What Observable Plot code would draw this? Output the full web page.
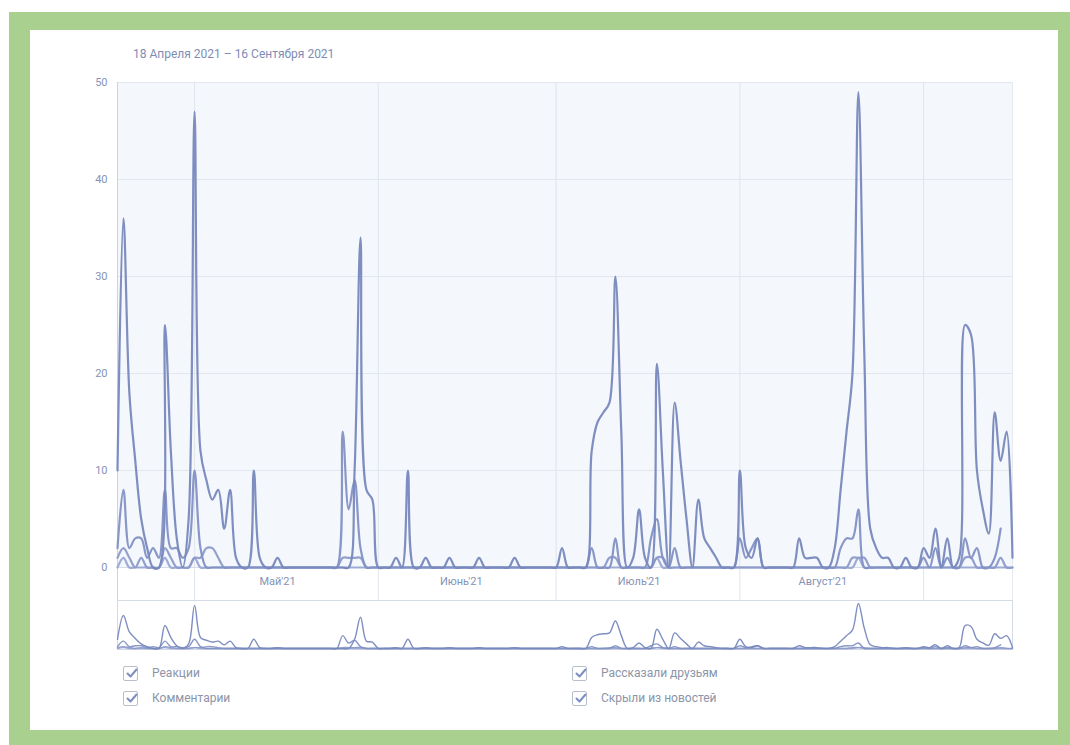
<!DOCTYPE html>
<html><head><meta charset="utf-8">
<script src="https://cdn.jsdelivr.net/npm/d3@7"></script>
<script src="https://cdn.jsdelivr.net/npm/@observablehq/plot@0.6"></script>
<style>
html,body{margin:0;padding:0;background:#fff;width:1070px;height:745px;overflow:hidden;font-family:Roboto,"Open Sans",sans-serif;}
#frame{position:absolute;left:9px;top:12px;width:1061px;height:733px;background:#a9d08e;}
#card{position:absolute;left:30px;top:30px;width:1028px;height:700px;background:#fff;}
#title{position:absolute;left:133px;top:47px;font-size:12px;color:#7e8db5;white-space:nowrap;}
#main{position:absolute;left:0;top:70px;}
#nav{position:absolute;left:0;top:600px;}
.leg{position:absolute;font-size:12px;color:#8b94a8;display:flex;align-items:center;height:16px;white-space:nowrap;}
.box{width:15px;height:15px;border:1px solid #b8bfcc;border-radius:2px;margin-right:14px;box-sizing:border-box;position:relative;background:#fff;}
.box svg{position:absolute;left:1px;top:0px;}
</style></head><body>
<div id="frame"></div>
<div id="card"></div>
<div id="title"></div>
<div id="main"></div>
<div id="nav"></div>
<div id="legend"></div>
<script>
// ---- data (daily, 18 Apr 2021 .. 16 Sep 2021) ----
const titleText = "18 Апреля 2021 – 16 Сентября 2021";
const seriesNames = ["Реакции", "Комментарии", "Рассказали друзьям", "Скрыли из новостей"];
const monthLabels = ["Май'21", "Июнь'21", "Июль'21", "Август'21"];
const yTicks = [0, 10, 20, 30, 40, 50];

const reactions = [
  // Apr 18-30
  10,36,18,11,5,2,0,0,25,12,3,0,5,
  // May
  47,12,9,7,8,4,8,1,0,0,10,1,0,0,1,0,0,0,0,0,0,0,0,0,0,0,0,10,34,8,7,
  // Jun
  0,0,0,1,0,10,0,0,1,0,0,0,1,0,0,0,0,1,0,0,0,0,0,1,0,0,0,0,0,0,
  // Jul
  0,2,0,0,0,0,12,15,16,17,30,14,0,1,6,1,0,21,10,0,17,11,5,0,7,3,2,1,0,0,0,
  // Aug
  10,2,1,3,0,0,0,0,0,0,3,1,1,1,0,0,2,8,14,20,49,22,4,2,1,1,0,0,1,0,0,
  // Sep 1-16
  2,1,4,0,3,0,1,25,24,10,6,3.5,16,11,14,1
];
const shares = [
  2,8,2,3,3,1,2,1,8,2,2,1,2,
  10,2,0,0,0,0,0,0,0,0,0,0,0,0,0,0,0,0,0,0,0,0,0,0,0,14,6,9,2,0,0,
  0,0,0,0,0,0,0,0,0,0,0,0,0,0,0,0,0,0,0,0,0,0,0,0,0,0,0,0,0,0,
  0,0,0,0,0,0,2,0,0,0,3,0,0,0,0,0,3,5,1,0,2,0,0,0,0,0,0,0,0,0,0,
  3,1,2,3,0,0,0,0,0,0,0,0,0,0,0,0,0,2,3,3,6,0,0,0,0,0,0,0,0,0,0,
  1,0,2,0,1,0,0,3,1,2,0,0,1,4,null,null
];
const comments = [
  1,2,1,0,1,0,0,0,2,1,0,0,0,
  1,1,2,2,1,0,0,0,0,0,0,0,0,0,0,0,0,0,0,0,0,0,0,0,0,1,1,1,1,0,0,
  0,0,0,0,0,0,0,0,0,0,0,0,0,0,0,0,0,0,0,0,0,0,0,0,0,0,0,0,0,0,
  0,0,0,0,0,0,0,0,0,1,1,0,0,0,0,0,0,1,1,0,0,0,0,0,0,0,0,0,0,0,0,
  0,0,0,0,0,0,0,0,0,0,0,0,0,0,0,0,0,0,0,1,1,1,0,0,0,0,0,0,0,0,0,
  0,0,0,0,0,0,0,1,1,0,0,0,0,1,0,0
];
const hidden = [
  0,1,0,0,0,0,0,0,1,0,0,0,0,
  1,0,0,0,0,0,0,0,0,0,0,0,0,0,0,0,0,0,0,0,0,0,0,0,0,0,0,0,0,0,0,
  0,0,0,0,0,0,0,0,0,0,0,0,0,0,0,0,0,0,0,0,0,0,0,0,0,0,0,0,0,0,
  0,0,0,0,0,0,0,0,0,0,0,0,0,0,0,0,0,1,0,0,0,0,0,0,0,0,0,0,0,0,0,
  0,0,0,0,0,0,0,0,0,0,0,0,0,0,0,0,0,0,0,0,1,0,0,0,0,0,0,0,0,0,0,
  0,0,0,0,0,0,0,0,0,0,0,0,0,0,0,0
];
const seriesColors = ["#7888bd", "#8d9bcb", "#8291c4", "#9aa8d3"];

// ---- build ----
const dates = d3.timeDay.range(new Date(2021,3,18), new Date(2021,8,17));
const monthStarts = [new Date(2021,4,1), new Date(2021,5,1), new Date(2021,6,1), new Date(2021,7,1), new Date(2021,8,1)];
const labelDates = [new Date(2021,4,15), new Date(2021,5,15), new Date(2021,6,15), new Date(2021,7,15)];
const labelMap = new Map(labelDates.map((d,i)=>[+d, monthLabels[i]]));
const allValues = [reactions, comments, shares, hidden];
const rows = seriesNames.flatMap((name, s) => dates.map((d, i) => ({date: d, value: allValues[s][i], series: name})));
const order = [3,1,2,0]; // draw biggest on top

document.getElementById("title").textContent = titleText;

const xDomain = [dates[0], dates[dates.length-1]];
const lineMarks = (sw) => order.map(s => Plot.line(rows.filter(r => r.series === seriesNames[s]), {
  x: "date", y: "value", stroke: seriesColors[s], strokeWidth: sw, curve: "catmull-rom", strokeOpacity: 0.95
}));

const main = Plot.plot({
  width: 1040, height: 540,
  marginLeft: 117, marginRight: 28, marginTop: 12, marginBottom: 43,
  x: {type: "time", domain: xDomain},
  y: {domain: [0, 50]},
  style: {fontFamily: "Roboto, 'Open Sans', sans-serif", background: "transparent", overflow: "visible"},
  marks: [
    Plot.frame({fill: "#f4f7fb", stroke: null}),
    Plot.gridY(yTicks.slice(1), {stroke: "#e2e7ef", strokeOpacity: 1}),
    Plot.ruleX(monthStarts, {stroke: "#e0e5ed", insetBottom: -33}),
    Plot.ruleX([xDomain[0]], {stroke: "#ccd3df", insetBottom: -33}),
    Plot.ruleX([xDomain[1]], {stroke: "#e6eaf0", insetBottom: -33}),
    Plot.ruleY([0], {stroke: "#d6dce6"}),
    Plot.axisY({ticks: yTicks, tickSize: 0, tickPadding: 10, fontSize: 11, fill: "#8593b5", label: null}),
    Plot.axisX({ticks: labelDates, tickSize: 0, tickPadding: 10, fontSize: 11, fill: "#8593b5", label: null,
      tickFormat: d => labelMap.get(+d)}),
    ...lineMarks(2.2)
  ]
});
document.getElementById("main").appendChild(main);

const nav = Plot.plot({
  width: 1040, height: 50,
  marginLeft: 117, marginRight: 28, marginTop: 3, marginBottom: 2,
  x: {type: "time", domain: xDomain, axis: null},
  y: {domain: [0, 49], axis: null},
  style: {background: "transparent", overflow: "visible"},
  marks: [
    Plot.frame({stroke: "#d5dbe4", fill: "#fff", insetTop: -3, insetBottom: -1}),
    ...lineMarks(1.4)
  ]
});
document.getElementById("nav").appendChild(nav);

// ---- legend ----
const legPos = [[123, 665], [123, 690], [572, 665], [572, 690]];
const legNames = ["Реакции", "Комментарии", "Рассказали друзьям", "Скрыли из новостей"];
const legend = document.getElementById("legend");
legNames.forEach((name, i) => {
  const el = document.createElement("div");
  el.className = "leg";
  el.style.left = legPos[i][0] + "px";
  el.style.top = legPos[i][1] + "px";
  el.innerHTML = '<div class="box"><svg width="14" height="13" viewBox="0 0 14 13"><path d="M2.5 6.5 L5.5 9.5 L11.5 2.5" fill="none" stroke="#7d8ec0" stroke-width="2" stroke-linecap="round" stroke-linejoin="round"/></svg></div><span></span>';
  el.querySelector("span").textContent = name;
  legend.appendChild(el);
});
</script>
</body></html>
